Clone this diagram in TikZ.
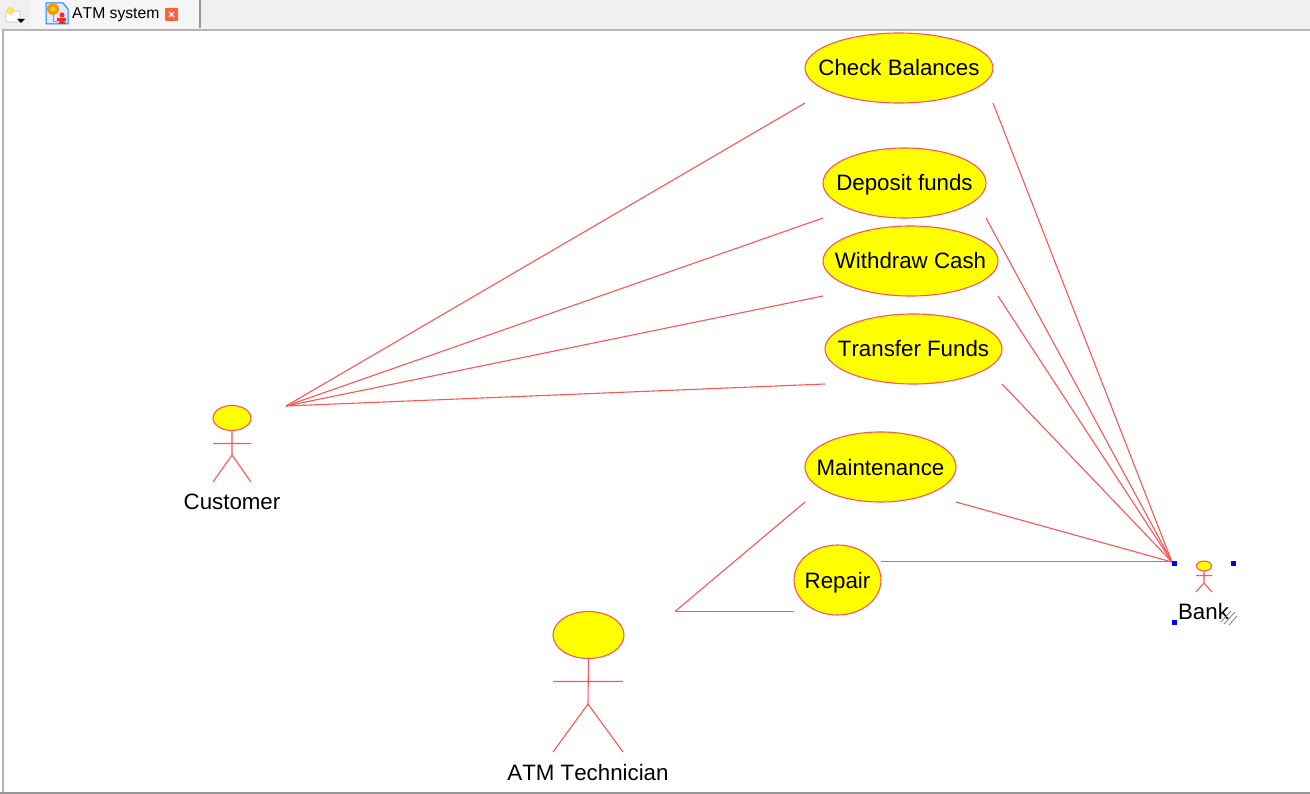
\documentclass[tikz,border=0pt]{standalone}
\usepackage{fontspec}
\setmainfont[Kerning=Off]{Liberation Sans}
\usetikzlibrary{shapes.geometric}
\definecolor{umlred}{RGB}{255,85,85}
\definecolor{umlyellow}{RGB}{255,255,0}
\definecolor{tabgray}{RGB}{240,240,240}
\definecolor{edgegray}{RGB}{150,150,150}
\newcommand{\uclabel}[1]{\makebox[0pt]{#1}}
\tikzset{
  x=1pt,y=-1pt,
  usecase/.style={ellipse,draw=umlred,fill=umlyellow,line width=1.1pt,inner sep=0pt,outer sep=0pt,minimum height=70pt,text height=16pt,text depth=0pt,font=\fontsize{22.3}{24}\selectfont,text=black},
  actorhead/.style={ellipse,draw=umlred,fill=umlyellow,line width=1.1pt,inner sep=0pt,outer sep=0pt},
  limb/.style={draw=umlred,line width=1.1pt},
  link/.style={draw=umlred,line width=1.1pt},
  actorlabel/.style={inner sep=0pt,font=\fontsize{22.3}{24}\selectfont,text=black},
  handle/.style={fill=blue,draw=none,minimum size=5pt,inner sep=0pt},
}
\begin{document}
\begin{tikzpicture}
\useasboundingbox (0,0) rectangle (1310,794);
% window chrome
\fill[white] (0,0) rectangle (1310,794);
\fill[tabgray] (0,0) rectangle (1310,29);
\fill[white!96!black] (30,0) rectangle (199,28);
\draw[edgegray,line width=1.4pt] (200,0) -- (200,28);
\draw[edgegray!70,line width=2pt] (2.5,794) -- (2.5,30) -- (1310,30);
\draw[edgegray,line width=2pt] (0,793) -- (1310,793);
% tab icons
\fill[white,draw=gray!50,line width=.7pt,rounded corners=1pt] (6,11) rectangle (20,22);
\fill[yellow!85!orange!70,draw=orange!50,line width=.4pt] (10.5,11) circle (3.5pt);
\fill[black] (17,19) -- (25,19) -- (21,23) -- cycle;
\fill[blue!10,draw=blue!45!cyan,line width=1pt] (46,3) -- (63,3) -- (68,9) -- (68,24) -- (46,24) -- cycle;
\fill[orange!85!yellow] (53,9) circle (6pt);
\fill[yellow!80!green] (53,9) circle (2.5pt);
\draw[blue!45!cyan!70,line width=.8pt] (53,15) -- (53,21) -- (58,21);
\fill[red!85] (62,15) circle (2.5pt);
\fill[red!85] (57,18) rectangle (66,21);
\fill[red!85] (58,24) -- (62,18) -- (66,24) -- cycle;
\node[inner sep=0pt,anchor=west,font=\fontsize{15.7}{18}\selectfont,text=black] (tabname) at (72,15) {ATM system};
\fill[red!65!orange!75,rounded corners=1pt] (165,8) rectangle (178,21);
\draw[white,line width=1.4pt] (169,12) -- (174,17) (169,17) -- (174,12);
% use cases
\node[usecase,minimum width=188pt] (check) at (899,68) {\uclabel{Check Balances}};
\node[usecase,minimum width=163pt] (deposit) at (904.5,183) {\uclabel{Deposit funds}};
\node[usecase,minimum width=175pt] (withdraw) at (910.5,261) {\uclabel{Withdraw Cash}};
\node[usecase,minimum width=177pt] (transfer) at (913.5,349) {\uclabel{Transfer Funds}};
\node[usecase,minimum width=151pt] (maint) at (880.5,467) {\uclabel{Maintenance}};
\node[usecase,minimum width=87pt] (repair) at (837.5,580) {\uclabel{Repair}};
% actors
\node[actorhead,minimum width=38pt,minimum height=25pt] (custhead) at (232,418) {};
\coordinate (custhip) at (232,455);
\draw[limb] (custhead.south) -- (custhip) -- (213,482) (custhip) -- (251,482) (213,443.5) -- (251,443.5);
\node[actorlabel] (custlabel) at (232,502) {Customer};
\node[actorhead,minimum width=71pt,minimum height=47pt] (techhead) at (588.5,635) {};
\coordinate (techhip) at (588,704);
\draw[limb] (techhead.south) -- (techhip) -- (553,752) (techhip) -- (623,752) (553,681.5) -- (623,681.5);
\node[actorlabel] (techlabel) at (588,772.5) {ATM Technician};
\node[actorhead,minimum width=15pt,minimum height=10pt] (bankhead) at (1204,566) {};
\coordinate (bankhip) at (1204,583);
\draw[limb] (bankhead.south) -- (bankhip) -- (1196,592) (bankhip) -- (1212,592) (1196,575.5) -- (1212,575.5);
\node[actorlabel] (banklabel) at (1203.5,612) {Bank};
% connector hubs
\coordinate (custhub) at (286,406);
\coordinate (bankhub) at (1172,562);
\coordinate (techhub) at (675,611.5);
\draw[link] (custhub) -- (check.west |- check.south);
\draw[link] (custhub) -- (deposit.west |- deposit.south);
\draw[link] (custhub) -- (withdraw.west |- withdraw.south);
\draw[link] (custhub) -- (transfer.west |- transfer.south);
\draw[link] (bankhub) -- (check.east |- check.south);
\draw[link] (bankhub) -- (deposit.east |- deposit.south);
\draw[link] (bankhub) -- (withdraw.east |- withdraw.south);
\draw[link] (bankhub) -- (transfer.east |- transfer.south);
\draw[link] (bankhub) -- (maint.east |- maint.south);
\draw[link] (bankhub |- 0,561.5) -- (repair.east |- 0,561.5);
\draw[link] (techhub) -- (maint.west |- maint.south);
\draw[link] (techhub) -- (repair.west |- techhub);
% selection handles
\node[handle] (h1) at (1174,563.5) {};
\node[handle] (h2) at (1233,563.5) {};
\node[handle] (h3) at (1174,622.5) {};
\draw[gray,line width=.8pt] (1221,622) -- (1231,611) (1224,624) -- (1235,612) (1229,625) -- (1237,616);
\end{tikzpicture}
\end{document}
